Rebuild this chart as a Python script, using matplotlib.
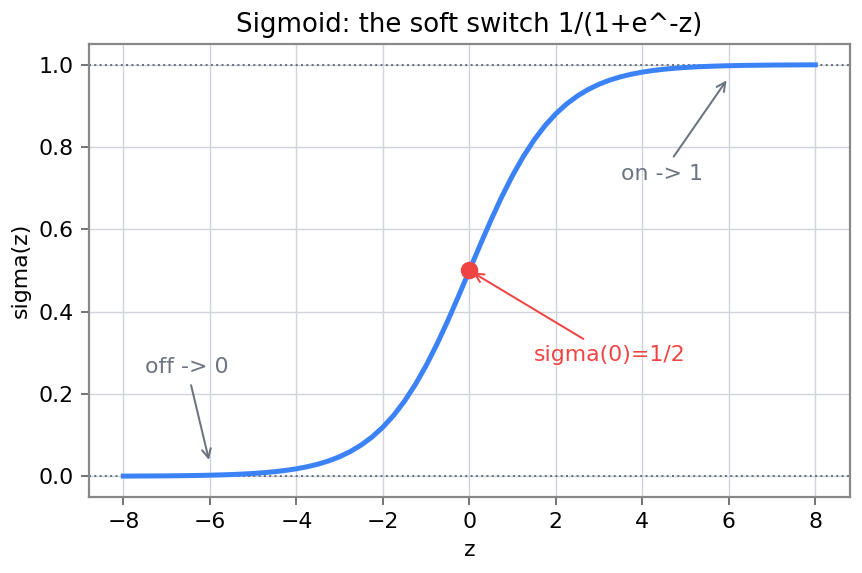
import matplotlib
matplotlib.use("Agg")
import matplotlib.pyplot as plt

# values, every 0.25 in z
z = [-8.0, -7.75, -7.5, -7.25, -7.0, -6.75, -6.5, -6.25, -6.0, -5.75, -5.5, -5.25,
     -5.0, -4.75, -4.5, -4.25, -4.0, -3.75, -3.5, -3.25, -3.0, -2.75, -2.5, -2.25,
     -2.0, -1.75, -1.5, -1.25, -1.0, -0.75, -0.5, -0.25, 0.0,
     0.25, 0.5, 0.75, 1.0, 1.25, 1.5, 1.75, 2.0, 2.25, 2.5, 2.75, 3.0, 3.25, 3.5,
     3.75, 4.0, 4.25, 4.5, 4.75, 5.0, 5.25, 5.5, 5.75, 6.0, 6.25, 6.5, 6.75, 7.0,
     7.25, 7.5, 7.75, 8.0]
sigma = [0.0003, 0.0004, 0.0006, 0.0007, 0.0009, 0.0012, 0.0015, 0.0019, 0.0025,
         0.0032, 0.0041, 0.0052, 0.0067, 0.0086, 0.0110, 0.0141, 0.0180, 0.0230,
         0.0293, 0.0373, 0.0474, 0.0601, 0.0759, 0.0953, 0.1192, 0.1480, 0.1824,
         0.2227, 0.2689, 0.3208, 0.3775, 0.4378, 0.5000,
         0.5622, 0.6225, 0.6792, 0.7311, 0.7773, 0.8176, 0.8520, 0.8808, 0.9047,
         0.9241, 0.9399, 0.9526, 0.9627, 0.9707, 0.9770, 0.9820, 0.9859, 0.9890,
         0.9914, 0.9933, 0.9948, 0.9959, 0.9968, 0.9975, 0.9981, 0.9985, 0.9988,
         0.9991, 0.9993, 0.9994, 0.9996, 0.9997]

blue = "#3b82f6"
red = "#ef4444"
gray = "#6b7280"

fig, ax = plt.subplots(figsize=(862 / 144, 573 / 144), dpi=144)

ax.plot(z, sigma, color=blue, linewidth=2.5, zorder=3, solid_joinstyle="round")
ax.axhline(0, color=gray, linestyle=":", linewidth=1, zorder=1)
ax.axhline(1, color=gray, linestyle=":", linewidth=1, zorder=1)
ax.scatter([0], [0.5], color=red, s=60, zorder=4)

ax.annotate("sigma(0)=1/2", xy=(0, 0.5), xytext=(1.5, 0.28), color=red, fontsize=11,
            arrowprops=dict(arrowstyle="->", color=red, lw=1))
ax.annotate("off -> 0", xy=(-6, 0.03), xytext=(-7.5, 0.25), color=gray, fontsize=11,
            arrowprops=dict(arrowstyle="->", color=gray, lw=1))
ax.annotate("on -> 1", xy=(6, 0.97), xytext=(3.5, 0.72), color=gray, fontsize=11,
            arrowprops=dict(arrowstyle="->", color=gray, lw=1))

ax.set_title("Sigmoid: the soft switch 1/(1+e^-z)", fontsize=13)
ax.set_xlabel("z", fontsize=11)
ax.set_ylabel("sigma(z)", fontsize=11)
ax.tick_params(labelsize=11, color="#555555", length=4)
ax.grid(True, color="#d1d5db", linewidth=0.7)
ax.set_axisbelow(True)
for s in ax.spines.values():
    s.set_color("#888888")
    s.set_linewidth(1.1)

fig.subplots_adjust(left=0.103, right=0.986, top=0.923, bottom=0.133)
fig.savefig("out.png", dpi=144)
